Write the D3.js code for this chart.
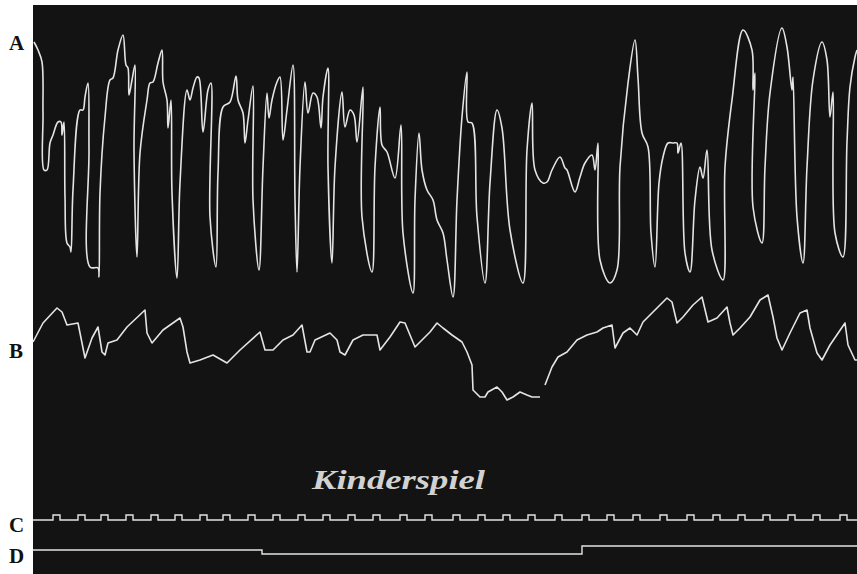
<!DOCTYPE html>
<html>
<head>
<meta charset="utf-8">
<script src="https://cdn.jsdelivr.net/npm/d3@7"></script>
<style>
  body { margin: 0; background: #fff; }
  svg { display: block; }
</style>
</head>
<body>
<svg id="kymo"></svg>
<script>
// time along the drum (0..824), trace deflection in arbitrary units
const traceA = [
  [1,258],[5,250],[9,238],[10,187],[11,130],[14,130],[17,157],[20,165],[25,178],[28,178],[29,165],[31,178],
  [32,103],[34,57],[37,53],[38,48],[40,110],[47,190],[50,190],[52,203],[55,217],[56,150],[57,33],[65,32],
  [66,23],[67,107],[72,183],[77,220],[80,222],[85,250],[90,265],[93,235],[95,232],[96,205],[99,220],[102,235],
  [101,150],[104,43],[107,147],[114,200],[117,217],[120,218],[125,237],[129,250],[130,218],[134,200],[135,172],
  [138,200],[139,107],[144,22],[147,117],[154,210],[157,200],[160,212],[164,223],[166,222],[170,168],[175,210],
  [178,217],[177,83],[183,33],[185,127],[190,193],[197,198],[203,224],[205,200],[210,187],[212,157],[215,180],
  [220,214],[220,100],[226,30],[230,133],[234,207],[236,182],[239,200],[244,218],[247,223],[250,160],[254,190],
  [260,235],[262,100],[264,28],[267,133],[272,218],[275,187],[280,207],[284,203],[288,172],[290,203],[295,232],
  [295,133],[299,37],[302,133],[309,208],[312,173],[317,190],[321,185],[324,158],[330,213],[329,83],[339,28],
  [342,133],[347,193],[349,155],[354,148],[362,122],[368,175],[370,67],[380,7],[382,100],[386,167],[389,130],
  [394,110],[400,100],[404,80],[410,67],[414,40],[420,3],[424,100],[429,183],[434,228],[435,178],[439,177],
  [444,83],[452,17],[457,117],[464,190],[469,172],[477,70],[490,17],[494,150],[499,197],[502,130],[510,117],
  [514,118],[519,130],[527,143],[532,132],[534,130],[542,108],[547,123],[552,137],[559,145],[562,130],[565,157],
  [567,40],[577,17],[584,30],[587,133],[595,217],[602,260],[605,222],[609,167],[615,153],[618,67],[622,33],
  [626,117],[630,143],[635,157],[640,157],[644,157],[645,147],[648,157],[652,47],[657,28],[662,100],[667,133],
  [670,122],[674,150],[679,50],[690,20],[692,133],[699,200],[710,270],[719,250],[720,210],[722,227],[720,93],
  [729,57],[732,133],[737,207],[749,272],[754,253],[759,210],[760,223],[764,83],[770,37],[774,133],[780,220],
  [789,258],[794,240],[797,183],[800,208],[802,67],[810,43],[814,158],[817,213],[822,243],[824,250]
];

const traceB = [
  [0,68],[10,87],[24,102],[29,98],[34,85],[45,87],[52,52],[59,72],[65,83],[69,58],[72,55],[75,67],[84,70],
  [94,83],[112,100],[114,77],[119,67],[130,80],[147,92],[150,83],[154,58],[157,47],[167,50],[180,55],[194,47],
  [207,60],[227,78],[232,60],[240,60],[250,70],[260,75],[269,85],[274,58],[277,58],[282,70],[297,77],[304,70],
  [307,58],[312,55],[320,70],[330,75],[344,75],[347,60],[357,73],[367,88],[372,87],[382,63],[392,73],[397,78],
  [404,87],[410,82],[419,75],[429,68],[434,58],[439,45],[440,20],[447,13],[452,13],[455,18],[464,23],[469,18],
  [474,10],[480,13],[487,18],[494,15],[499,13],[507,13],null,[512,25],[519,43],[525,53],[534,58],[544,70],
  [554,75],[564,78],[570,82],[579,85],[582,62],[590,77],[597,82],[604,75],[610,88],[620,98],[634,112],[639,108],
  [644,87],[650,93],[660,105],[669,113],[675,88],[684,92],[694,103],[697,87],[700,75],[707,82],[717,93],
  [727,110],[735,115],[740,93],[744,72],[749,60],[757,77],[767,97],[774,100],[777,82],[784,57],[789,50],
  [797,65],[812,87],[815,65],[822,50],[824,50]
];

// time marker pulses (start of each contact)
const pulseStarts = [20,45,68,93,118,142,167,190,215,240,265,290,315,340,367,392,420,445,470,495,522,549,
  574,600,627,654,680,705,730,755,780,807];
const pulseWidth = 7;

// signal line D: [start, end, level]
const signalD = [[0, 229, 6], [229, 549, 2], [549, 824, 10]];

const traceLabels = [
  { name: 'A', y: 50 },
  { name: 'B', y: 358 },
  { name: 'C', y: 532 },
  { name: 'D', y: 563 }
];
const caption = 'Kinderspiel';

let width = 857, height = 574;
let panel = { left: 33, top: 5, right: 857, bottom: 574 };
let ink = '#e4e4e4';

let svg = d3.select('#kymo')
  .attr('width', width)
  .attr('height', height);

svg.append('rect')
  .attr('x', panel.left)
  .attr('y', panel.top)
  .attr('width', panel.right - panel.left)
  .attr('height', panel.bottom - panel.top)
  .attr('fill', '#131313');

let xScale = d3.scaleLinear().domain([0, 824]).range([panel.left, panel.right]);
let yA = d3.scaleLinear().domain([0, 280]).range([300, 20]);
let yB = d3.scaleLinear().domain([0, 120]).range([410, 290]);
let yC = d3.scaleLinear().domain([0, 1]).range([520, 515]);
let yD = d3.scaleLinear().domain([0, 10]).range([556, 546]);

let lineFor = (yScale, curve) => d3.line()
  .defined(d => d != null)
  .curve(curve || d3.curveLinear)
  .x(d => xScale(d[0]))
  .y(d => yScale(d[1]));

// trace A is smooth, so a centripetal spline (no overshoot); B stays jagged
let penCurve = d3.curveCatmullRom.alpha(0.5);

svg.append('path')
  .datum(traceA)
  .attr('fill', 'none')
  .attr('stroke', ink)
  .attr('stroke-width', 1.6)
  .attr('stroke-linejoin', 'round')
  .attr('d', lineFor(yA, penCurve));

svg.append('path')
  .datum(traceB)
  .attr('fill', 'none')
  .attr('stroke', ink)
  .attr('stroke-width', 1.6)
  .attr('stroke-linejoin', 'round')
  .attr('d', lineFor(yB));

// C: build square pulses from the start times
let cPoints = [[0, 0]];
pulseStarts.forEach(t => {
  cPoints.push([t, 0], [t, 1], [t + pulseWidth, 1], [t + pulseWidth, 0]);
});
cPoints.push([824, 0]);

svg.append('path')
  .datum(cPoints)
  .attr('fill', 'none')
  .attr('stroke', ink)
  .attr('stroke-width', 1.4)
  .attr('d', lineFor(yC));

// D: step line
let dPoints = [];
signalD.forEach(s => {
  dPoints.push([s[0], s[2]], [s[1], s[2]]);
});

svg.append('path')
  .datum(dPoints)
  .attr('fill', 'none')
  .attr('stroke', ink)
  .attr('stroke-width', 1.4)
  .attr('d', lineFor(yD));

svg.append('text')
  .attr('x', 312)
  .attr('y', 489)
  .attr('textLength', 173)
  .attr('lengthAdjust', 'spacingAndGlyphs')
  .style('font-family', '"Liberation Serif", serif')
  .style('font-style', 'italic')
  .style('font-weight', 'bold')
  .style('font-size', '27px')
  .attr('fill', '#d2d2d2')
  .text(caption);

svg.selectAll('.trace-label')
  .data(traceLabels)
  .enter()
  .append('text')
  .attr('class', 'trace-label')
  .attr('x', 9)
  .attr('y', d => d.y)
  .style('font-family', '"Liberation Serif", serif')
  .style('font-weight', 'bold')
  .style('font-size', '21px')
  .attr('fill', '#111')
  .text(d => d.name);
</script>
</body>
</html>
